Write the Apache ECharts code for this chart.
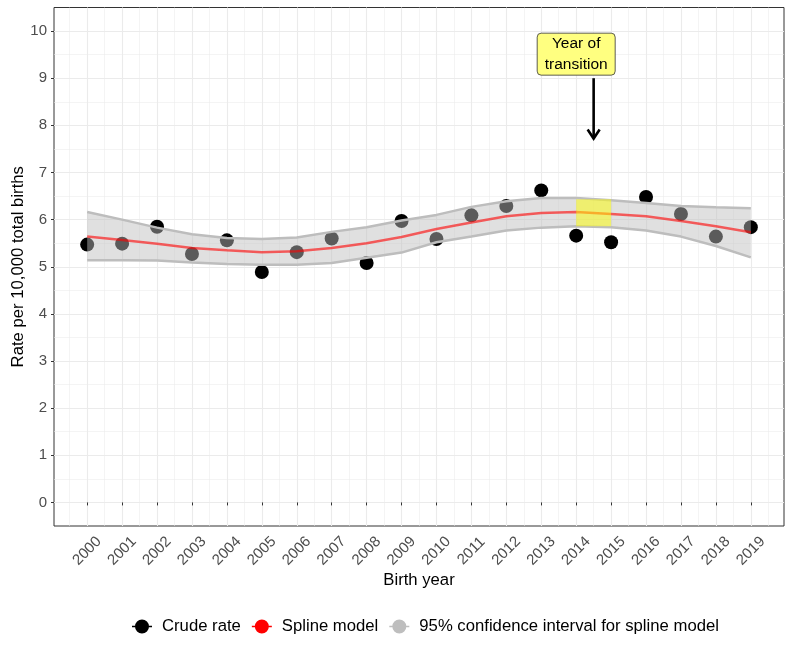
<!DOCTYPE html>
<html>
<head>
<meta charset="utf-8">
<script src="https://cdn.jsdelivr.net/npm/echarts@6/dist/echarts.min.js"></script>
<style>html,body{margin:0;padding:0;background:#fff}#c{width:792px;height:652px}</style>
</head>
<body>
<div id="c"></div>
<script>
const years = [2000,2001,2002,2003,2004,2005,2006,2007,2008,2009,2010,2011,2012,2013,2014,2015,2016,2017,2018,2019];
const crudeRate = [5.47,5.49,5.85,5.27,5.56,4.89,5.31,5.60,5.08,5.97,5.59,6.09,6.29,6.62,5.66,5.52,6.48,6.12,5.64,5.84];
const splineModel = [5.64,5.57,5.49,5.40,5.35,5.31,5.33,5.40,5.50,5.63,5.80,5.94,6.07,6.14,6.16,6.12,6.07,5.97,5.86,5.73];
const ciUpper = [6.16,6.00,5.83,5.69,5.61,5.59,5.62,5.74,5.84,5.98,6.10,6.27,6.39,6.46,6.46,6.41,6.35,6.29,6.26,6.24];
const ciLower = [5.14,5.14,5.13,5.09,5.06,5.04,5.04,5.08,5.19,5.30,5.52,5.64,5.77,5.83,5.86,5.84,5.77,5.64,5.44,5.20];
const xTicks = years;
const xMinor = [1999.5,2000.5,2001.5,2002.5,2003.5,2004.5,2005.5,2006.5,2007.5,2008.5,2009.5,2010.5,2011.5,2012.5,2013.5,2014.5,2015.5,2016.5,2017.5,2018.5,2019.5];
const yTicks = [0,1,2,3,4,5,6,7,8,9,10];
const yMinor = [0.5,1.5,2.5,3.5,4.5,5.5,6.5,7.5,8.5,9.5];
const transitionRect = [[2014, 5.86, 2015, 6.43]];
const arrowData = [[2014.5, 9.0, 7.72]];
const labelData = [[2014, 9.51, 'Year of\ntransition']];

const FONT = 'Liberation Sans, Arial, Helvetica, sans-serif';
const XMIN = 1999.05, XMAX = 2019.95, YMIN = -0.5, YMAX = 10.5;
const legendIcon = 'path://M0,6.2 H3.5 V7.8 H0 Z M16.5,6.2 H20 V7.8 H16.5 Z M3,7 A7,7 0 1,1 17,7 A7,7 0 1,1 3,7 Z';

const chart = echarts.init(document.getElementById('c'), null, {renderer: 'canvas'});
const pair = arr => years.map((y, i) => [y, arr[i]]);
const bandData = years.map((y, i) => [y, ciLower[i], ciUpper[i]]);

const option = {
  animation: false,
  textStyle: {fontFamily: FONT},
  grid: {left: 54, right: 8, top: 7.5, bottom: 126, show: true, borderColor: '#333', borderWidth: 1,
    backgroundColor: 'transparent', containLabel: false, outerBoundsMode: 'none'},
  legend: {
    bottom: 17, left: 132, padding: 0, itemWidth: 20, itemHeight: 14, itemGap: 11,
    textStyle: {fontSize: 16.7, color: '#000', fontFamily: FONT, padding: [0, 0, 0, 5]},
    selectedMode: false,
    data: [
      {name: 'Crude rate', icon: legendIcon, itemStyle: {color: '#000'}},
      {name: 'Spline model', icon: legendIcon, itemStyle: {color: '#ff0000'}},
      {name: '95% confidence interval for spline model', icon: legendIcon, itemStyle: {color: '#bebebe'}}
    ]
  },
  xAxis: [
    {
      type: 'value', min: XMIN, max: XMAX,
      name: 'Birth year', nameLocation: 'middle', nameGap: 46, nameMoveOverlap: false,
      nameTextStyle: {fontSize: 16.7, color: '#000', fontFamily: FONT},
      axisLine: {show: false},
      axisTick: {show: true, customValues: xTicks, length: 3, lineStyle: {color: '#333', width: 1}},
      axisLabel: {customValues: xTicks, rotate: 45, fontSize: 15, color: '#4d4d4d', margin: 25,
        align: 'center', verticalAlign: 'middle', fontFamily: FONT, formatter: v => String(v)},
      splitLine: {show: true, lineStyle: {color: '#ebebeb', width: 1.1}}
    },
    {
      type: 'value', min: XMIN, max: XMAX, position: 'bottom',
      axisLine: {show: false},
      axisTick: {show: false, customValues: xMinor},
      axisLabel: {show: false, customValues: xMinor},
      splitLine: {show: true, lineStyle: {color: '#ebebeb', width: 0.55}}
    }
  ],
  yAxis: [
    {
      type: 'value', min: YMIN, max: YMAX,
      name: 'Rate per 10,000 total births', nameLocation: 'middle', nameGap: 27, nameRotate: 90, nameMoveOverlap: false,
      nameTextStyle: {fontSize: 16.7, color: '#000', fontFamily: FONT},
      axisLine: {show: false},
      axisTick: {show: true, customValues: yTicks, length: 3, lineStyle: {color: '#333', width: 1}},
      axisLabel: {customValues: yTicks, fontSize: 15, color: '#4d4d4d', margin: 7, fontFamily: FONT},
      splitLine: {show: true, lineStyle: {color: '#ebebeb', width: 1.1}}
    },
    {
      type: 'value', min: YMIN, max: YMAX, position: 'left',
      axisLine: {show: false},
      axisTick: {show: false, customValues: yMinor},
      axisLabel: {show: false, customValues: yMinor},
      splitLine: {show: true, lineStyle: {color: '#ebebeb', width: 0.55}}
    }
  ],
  series: [
    {
      name: 'Crude rate', type: 'scatter', data: pair(crudeRate),
      symbol: 'circle', symbolSize: 14, itemStyle: {color: '#000', opacity: 1}, z: 2
    },
    {
      name: '95% confidence interval for spline model', type: 'custom', z: 3, silent: true,
      data: bandData,
      itemStyle: {color: '#bebebe'},
      renderItem: (params, api) => {
        if (params.dataIndex !== 0) return null;
        const up = bandData.map(d => api.coord([d[0], d[2]]));
        const lo = bandData.map(d => api.coord([d[0], d[1]])).reverse();
        return {type: 'polygon', shape: {points: up.concat(lo)}, style: {fill: 'rgba(190,190,190,0.48)'}};
      }
    },
    {
      name: 'ciUpperEdge', type: 'line', data: pair(ciUpper), showSymbol: false, symbol: 'none',
      lineStyle: {color: '#bdbdbd', width: 2.5}, z: 4, silent: true
    },
    {
      name: 'ciLowerEdge', type: 'line', data: pair(ciLower), showSymbol: false, symbol: 'none',
      lineStyle: {color: '#bdbdbd', width: 2.5}, z: 4, silent: true
    },
    {
      name: 'Spline model', type: 'line', data: pair(splineModel), showSymbol: false, symbol: 'none',
      lineStyle: {color: 'rgba(255,0,0,0.6)', width: 2.5}, itemStyle: {color: '#ff0000'}, z: 5, silent: true
    },
    {
      name: 'transitionRect', type: 'custom', z: 6, silent: true,
      data: transitionRect,
      renderItem: (params, api) => {
        const p1 = api.coord([api.value(0), api.value(1)]);
        const p2 = api.coord([api.value(2), api.value(3)]);
        return {type: 'rect', shape: {x: p1[0], y: p2[1], width: p2[0] - p1[0], height: p1[1] - p2[1]},
          style: {fill: 'rgba(255,255,0,0.5)'}};
      }
    },
    {
      name: 'arrow', type: 'custom', z: 7, silent: true, clip: false,
      data: arrowData,
      renderItem: (params, api) => {
        const a = api.coord([api.value(0), api.value(1)]);
        const b = api.coord([api.value(0), api.value(2)]);
        return {type: 'group', children: [
          {type: 'line', shape: {x1: a[0], y1: a[1], x2: b[0], y2: b[1] - 1}, style: {stroke: '#000', lineWidth: 2.6}},
          {type: 'polyline', shape: {points: [[b[0] - 6, b[1] - 9], [b[0], b[1]], [b[0] + 6, b[1] - 9]]},
            style: {stroke: '#000', lineWidth: 2.6, fill: null, lineJoin: 'miter'}}
        ]};
      }
    },
    {
      name: 'label', type: 'custom', z: 8, silent: true, clip: false,
      data: labelData,
      renderItem: (params, api) => {
        const c = api.coord([api.value(0), api.value(1)]);
        const txt = labelData[params.dataIndex][2];
        return {type: 'group', children: [
          {type: 'rect', shape: {x: c[0] - 39, y: c[1] - 21, width: 78, height: 42, r: 4},
            style: {fill: '#ffff80', stroke: '#333', lineWidth: 0.8}},
          {type: 'text', style: {text: txt, x: c[0], y: c[1], align: 'center', verticalAlign: 'middle',
            fontSize: 15.5, lineHeight: 21, fill: '#000', fontFamily: FONT}}
        ]};
      }
    }
  ]
};
chart.setOption(option);
</script>
</body>
</html>
